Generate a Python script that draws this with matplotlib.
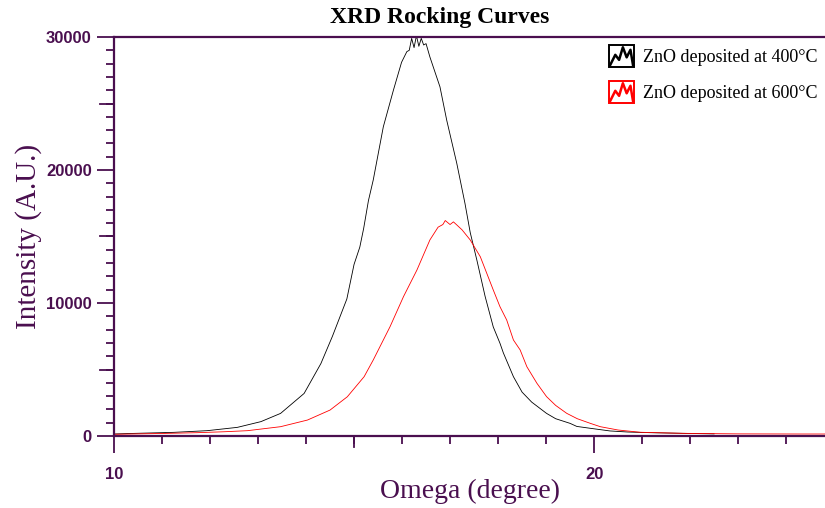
import matplotlib
matplotlib.use('Agg')
import matplotlib.pyplot as plt
from matplotlib.lines import Line2D
from matplotlib.patches import Rectangle
from matplotlib.legend_handler import HandlerBase
from matplotlib.ticker import MultipleLocator, FixedLocator

# values
omega_400 = [10.0, 10.35, 11.0, 11.25, 11.94, 12.57, 13.06, 13.47, 13.96, 14.31, 14.55,
             14.85, 15.0, 15.12, 15.2, 15.3, 15.4, 15.61, 15.82, 15.99, 16.1, 16.15,
             16.2, 16.25, 16.3, 16.35, 16.4, 16.45, 16.5, 16.58, 16.79, 16.93, 17.14,
             17.31, 17.42, 17.56, 17.73, 17.9, 18.04, 18.11, 18.32, 18.5, 18.7, 19.01,
             19.2, 19.5, 19.64, 19.92, 20.33, 20.7, 21.17, 21.85, 22.5]
inten_400 = [150, 190, 250, 275, 400, 650, 1080, 1700, 3200, 5450, 7500,
             10300, 12900, 14200, 15600, 17700, 19250, 23250, 26000, 28100, 28900, 29000,
             29900, 29200, 30100, 29300, 29900, 29400, 29500, 28500, 26250, 23750, 20500,
             17500, 15300, 13200, 10500, 8200, 6970, 6250, 4460, 3300, 2550, 1700,
             1300, 950, 720, 580, 380, 300, 250, 200, 160]

omega_600 = [10.0, 10.35, 11.0, 11.74, 12.3, 12.78, 13.47, 14.03, 14.5, 14.86, 15.21,
             15.4, 15.75, 16.03, 16.31, 16.58, 16.75, 16.85, 16.9, 17.0, 17.07, 17.14,
             17.25, 17.42, 17.63, 17.9, 18.04, 18.18, 18.32, 18.46, 18.6, 18.81, 19.01,
             19.2, 19.43, 19.65, 19.92, 20.13, 20.5, 20.96, 21.85, 23.0, 24.3, 24.85]
inten_600 = [130, 150, 190, 250, 320, 400, 700, 1200, 1950, 2950, 4460,
             5715, 8220, 10480, 12480, 14740, 15700, 15900, 16200, 15900, 16100, 15870,
             15500, 14740, 13480, 10980, 9720, 8720, 7220, 6470, 5210, 3960, 2960,
             2300, 1704, 1300, 953, 700, 450, 280, 200, 160, 150, 150]

labels = ['ZnO deposited at 400°C', 'ZnO deposited at 600°C']
colours = ['black', 'red']

purple = '#4a0f4f'


class ZigzagBox(HandlerBase):
	def create_artists(self, legend, orig, xd, yd, w, h, fontsize, trans):
		c = orig.get_color()
		box = Rectangle((xd, yd - 0.35 * h), w, 1.7 * h, fill=False, edgecolor=c,
		                lw=1.4, transform=trans)
		xs = [xd + w * f for f in (0.05, 0.25, 0.4, 0.55, 0.7, 0.85, 0.95)]
		ys = [yd + h * f for f in (-0.2, 0.6, 0.2, 1.2, 0.4, 1.0, -0.2)]
		zz = Line2D(xs, ys, color=c, lw=1.8, transform=trans)
		return [box, zz]


fig = plt.figure(figsize=(8.25, 5.08), dpi=100)
ax = fig.add_axes([114 / 825, 1 - 436 / 508, 1 - 114 / 825, (436 - 37) / 508])

l1, = ax.plot(omega_400, inten_400, color=colours[0], lw=0.6, label=labels[0])
l2, = ax.plot(omega_600, inten_600, color=colours[1], lw=0.6, label=labels[1])

ax.set_xlim(10, 24.81)
ax.set_ylim(0, 30000)

for s in ['left', 'bottom', 'top']:
	ax.spines[s].set_color(purple)
	ax.spines[s].set_linewidth(1.6)
ax.spines['right'].set_visible(False)

ax.xaxis.set_major_locator(FixedLocator([10, 20]))
ax.xaxis.set_minor_locator(MultipleLocator(1))
ax.yaxis.set_major_locator(FixedLocator([0, 10000, 20000, 30000]))
ax.yaxis.set_minor_locator(MultipleLocator(1000))
ax.tick_params(which='major', direction='out', length=12, width=1.3, color=purple,
               labelcolor=purple, labelsize=12)
ax.tick_params(which='minor', direction='out', length=6, width=1.3, color=purple)
ax.tick_params(axis='x', which='major', pad=10)
ax.tick_params(axis='y', which='major', pad=4)
for t in ax.get_xticklabels() + ax.get_yticklabels():
	t.set_fontfamily('Liberation Sans')
	t.set_fontweight('bold')

# medium ticks at 15 deg and every 5000 counts
for x in [15]:
	ax.plot([x, x], [0, -0.028], transform=ax.get_xaxis_transform(), color=purple,
	        lw=1.3, clip_on=False)
for y in [5000, 15000, 25000]:
	ax.plot([0, -0.0195], [y, y], transform=ax.get_yaxis_transform(), color=purple,
	        lw=1.3, clip_on=False)

ax.set_xlabel('Omega (degree)', family='Liberation Serif', fontsize=20, color=purple,
              labelpad=-2)
ax.set_ylabel('Intensity (A.U.)', family='Liberation Serif', fontsize=21, color=purple,
              labelpad=3)
fig.text(440 / 825, 1 - 18 / 508, 'XRD Rocking Curves', family='Liberation Serif',
         fontsize=17, fontweight='bold', ha='center', va='center')

leg = ax.legend(handles=[l1, l2], handler_map={Line2D: ZigzagBox()}, loc='upper right',
                bbox_to_anchor=(1.0, 0.987),
                frameon=False, prop={'family': 'Liberation Serif', 'size': 13},
                handlelength=1.4, handletextpad=0.5, labelspacing=1.05,
                borderaxespad=0.0)

fig.savefig('out.png', dpi=100)
